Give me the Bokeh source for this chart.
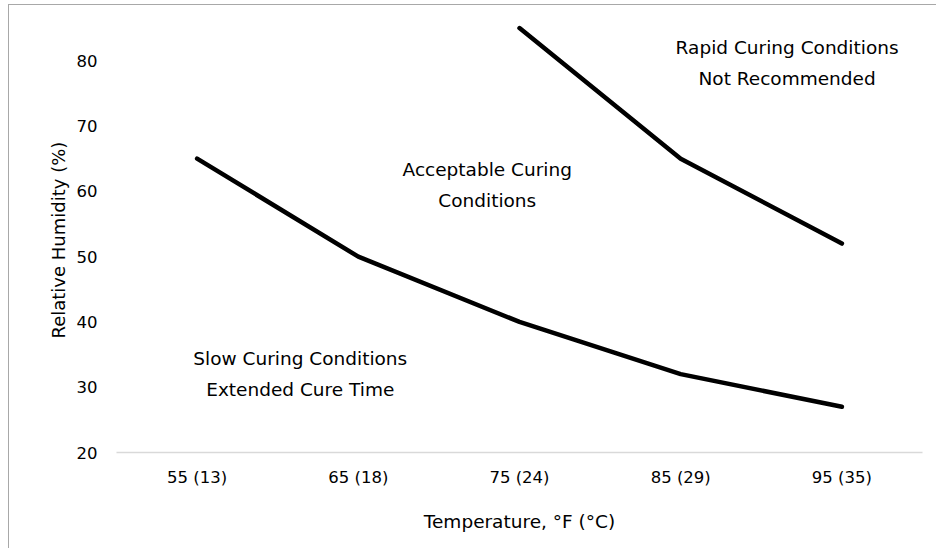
from bokeh.plotting import figure
from bokeh.models import Label, Title
from bokeh.embed import file_html
from bokeh.resources import INLINE

categories = ["55 (13)", "65 (18)", "75 (24)", "85 (29)", "95 (35)"]
slow_limit = [65, 50, 40, 32, 27]
rapid_cats = ["75 (24)", "85 (29)", "95 (35)"]
rapid_limit = [85, 65, 52]
y_ticks = [20, 30, 40, 50, 60, 70, 80]

FONT = "DejaVu Sans"
FS = "16.5px"
FS_BIG = "18.5px"

p = figure(x_range=categories, y_range=(20, 88), width=928, height=544,
           output_backend="svg", toolbar_location=None,
           min_border_left=107, min_border_right=15, min_border_top=3, min_border_bottom=97)
p.outline_line_color = None
p.styles = {"margin-left": "8px", "margin-top": "4px",
            "border-left": "1px solid #a8a8a8", "border-top": "1px solid #a8a8a8"}
p.xgrid.grid_line_color = None
p.ygrid.grid_line_color = None
p.x_range.range_padding = 0

p.line(categories, slow_limit, line_width=4.5, color="black", line_join="round", line_cap="round")
p.line(rapid_cats, rapid_limit, line_width=4.5, color="black", line_join="round", line_cap="round")

p.yaxis.ticker = y_ticks
p.yaxis.axis_line_color = None
p.yaxis.major_tick_line_color = None
p.yaxis.major_tick_out = 0
p.yaxis.minor_tick_line_color = None
p.yaxis.minor_tick_out = 0
p.yaxis.major_label_standoff = 19

p.xaxis.axis_line_color = "#d9d9d9"
p.xaxis.axis_line_width = 1.5
p.xaxis.major_tick_line_color = None
p.xaxis.major_tick_out = 0
p.xaxis.minor_tick_line_color = None
p.xaxis.minor_tick_out = 0
p.xaxis.major_label_standoff = 15
p.xaxis.axis_label = "Temperature, °F (°C)"
p.xaxis.axis_label_standoff = 21

for ax in (p.xaxis, p.yaxis):
    ax.major_label_text_font = FONT
    ax.major_label_text_font_size = FS
    ax.major_label_text_color = "black"
    ax.axis_label_text_font = FONT
    ax.axis_label_text_font_size = FS_BIG
    ax.axis_label_text_font_style = "normal"
    ax.axis_label_text_color = "black"

# y-axis title as a side title, so it can sit a little below the frame centre
y_title = Title(text="Relative Humidity (%)", align="left", offset=114, standoff=10,
                text_font=FONT, text_font_size="18px", text_font_style="normal",
                text_color="black")
p.add_layout(y_title, "left")


def add_note(x, y, text):
    p.add_layout(Label(x=x, y=y, text=text,
                       text_align="center", text_baseline="middle",
                       text_font=FONT, text_font_size=FS_BIG, text_color="black",
                       text_line_height=1.45))


add_note(2.30, 61.0, "Acceptable Curing\nConditions")
add_note(4.16, 79.65, "Rapid Curing Conditions\nNot Recommended")
add_note(1.14, 32.0, "Slow Curing Conditions\nExtended Cure Time")

open("out.html", "w").write(file_html(p, INLINE))
